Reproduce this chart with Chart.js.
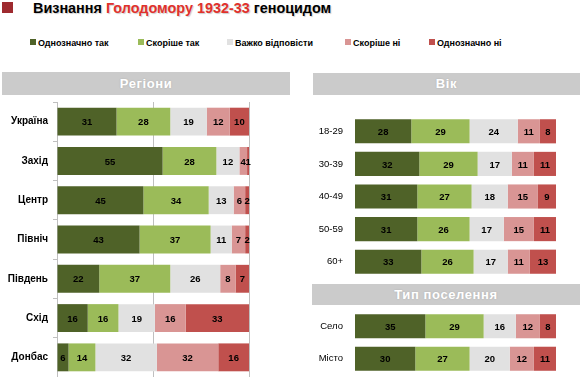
<!DOCTYPE html>
<html>
<head>
<meta charset="utf-8">
<script src="https://cdn.jsdelivr.net/npm/chart.js@4.4.1/dist/chart.umd.min.js"></script>
<style>
  body { margin: 0; background: #fff; font-family: "Liberation Sans", Arial, sans-serif; }
  #page { position: relative; width: 580px; height: 377px; overflow: hidden; }
  .abs { position: absolute; }
  #mark { left: 2px; top: 2px; width: 11px; height: 11px; background: #9e2a2f; }
  #title { left: 33px; top: 0px; font-size: 14.4px; font-weight: bold; color: #000; white-space: nowrap;
           text-shadow: 1px 1px 1px rgba(0,0,0,0.2); }
  #title span { color: #e0312c; }
  .leg { top: 37px; font-size: 9px; font-weight: bold; white-space: nowrap; line-height: 12px; }
  .leg i { display: inline-block; width: 6px; height: 6px; margin-right: 2px; vertical-align: 1px; }
  .head { background: #cbcbcb; color: #fff; font-weight: bold; font-size: 13px; text-align: center;
          letter-spacing: 0.6px; text-shadow: 0 0 2px rgba(0,0,0,0.15); }
</style>
</head>
<body>
<div id="page">
  <div id="mark" class="abs"></div>
  <div id="title" class="abs">Визнання <span>Голодомору 1932-33</span> геноцидом</div>
  <div id="legend"></div>
  <div class="abs head" style="left:2px;top:72px;width:288px;height:23px;line-height:23px;">Регіони</div>
  <div class="abs head" style="left:313px;top:73px;width:267px;height:22px;line-height:22px;">Вік</div>
  <div class="abs head" style="left:312px;top:284px;width:268px;height:21px;line-height:21px;">Тип поселення</div>
  <canvas id="regionChart" class="abs" style="left:0;top:102px;" width="290" height="275"></canvas>
  <canvas id="ageChart" class="abs" style="left:290px;top:115px;" width="290" height="163"></canvas>
  <canvas id="placeChart" class="abs" style="left:290px;top:310px;" width="290" height="65"></canvas>
</div>
<script>
const answers = ['Однозначно так', 'Скоріше так', 'Важко відповісти', 'Скоріше ні', 'Однозначно ні'];
const answerColors = ['#4f6228', '#9bbb59', '#e1e1e1', '#d99594', '#c0504d'];

const regions = ['Україна', 'Захід', 'Центр', 'Північ', 'Південь', 'Схід', 'Донбас'];
const regionDefYes = [31, 55, 45, 43, 22, 16, 6];
const regionRatherYes = [28, 28, 34, 37, 37, 16, 14];
const regionHard = [19, 12, 13, 11, 26, 19, 32];
const regionRatherNo = [12, 4, 6, 7, 8, 16, 32];
const regionDefNo = [10, 1, 2, 2, 7, 33, 16];

const ages = ['18-29', '30-39', '40-49', '50-59', '60+'];
const ageDefYes = [28, 32, 31, 31, 33];
const ageRatherYes = [29, 29, 27, 26, 26];
const ageHard = [24, 17, 18, 17, 17];
const ageRatherNo = [11, 11, 15, 15, 11];
const ageDefNo = [8, 11, 9, 11, 13];

const places = ['Село', 'Місто'];
const placeDefYes = [35, 30];
const placeRatherYes = [29, 27];
const placeHard = [16, 20];
const placeRatherNo = [12, 12];
const placeDefNo = [8, 11];

// legend
const legX = [30, 138, 227, 345, 429];
document.getElementById('legend').innerHTML = answers.map((a, i) =>
  '<div class="abs leg" style="left:' + legX[i] + 'px"><i style="background:' + answerColors[i] + '"></i>' + a + '</div>'
).join('');

const FONT = '"Liberation Sans", Arial, sans-serif';

// value labels inside the bars
const valueLabels = {
  id: 'valueLabels',
  afterDatasetsDraw(chart) {
    const ctx = chart.ctx;
    ctx.save();
    ctx.font = 'bold 9.5px ' + FONT;
    ctx.fillStyle = '#000';
    ctx.textAlign = 'center';
    ctx.textBaseline = 'middle';
    chart.data.datasets.forEach((ds, i) => {
      chart.getDatasetMeta(i).data.forEach((bar, j) => {
        const p = bar.getCenterPoint();
        ctx.fillText(ds.data[j], p.x, p.y + 1);
      });
    });
    ctx.restore();
  }
};

function makeChart(id, labels, series, opt) {
  new Chart(document.getElementById(id), {
    type: 'bar',
    data: {
      labels: labels,
      datasets: series.map((s, i) => ({
        label: answers[i],
        data: s,
        backgroundColor: answerColors[i],
        borderWidth: 0,
        barPercentage: opt.barPct,
        categoryPercentage: 1
      }))
    },
    options: {
      indexAxis: 'y',
      responsive: false,
      animation: false,
      layout: { padding: { left: 0, right: opt.right, top: 0, bottom: 0 } },
      plugins: { legend: { display: false }, tooltip: { enabled: false } },
      scales: {
        x: {
          stacked: true, min: 0, max: 100,
          display: opt.grid,
          ticks: { display: false, stepSize: 50 },
          grid: { drawTicks: false, color: '#bfbfbf' },
          border: { display: false },
          afterFit: s => { s.height = 0; }
        },
        y: {
          stacked: true,
          afterFit: s => { s.width = opt.yWidth; s.paddingTop = 0; s.paddingBottom = 0; },
          ticks: {
            color: '#000',
            padding: opt.grid ? 5 : 8,
            font: { family: FONT, size: opt.grid ? 10 : 9.5, weight: opt.grid ? 'bold' : 'normal' }
          },
          grid: { display: opt.grid, drawOnChartArea: false, tickLength: 4, color: '#bfbfbf' },
          border: { display: opt.grid, color: '#bfbfbf' }
        }
      }
    },
    plugins: [valueLabels]
  });
}

makeChart('regionChart', regions,
  [regionDefYes, regionRatherYes, regionHard, regionRatherNo, regionDefNo],
  { barPct: 0.71, right: 41, yWidth: 57, grid: true });
makeChart('ageChart', ages,
  [ageDefYes, ageRatherYes, ageHard, ageRatherNo, ageDefNo],
  { barPct: 0.74, right: 24, yWidth: 65, grid: false });
makeChart('placeChart', places,
  [placeDefYes, placeRatherYes, placeHard, placeRatherNo, placeDefNo],
  { barPct: 0.74, right: 24, yWidth: 65, grid: false });
</script>
</body>
</html>
